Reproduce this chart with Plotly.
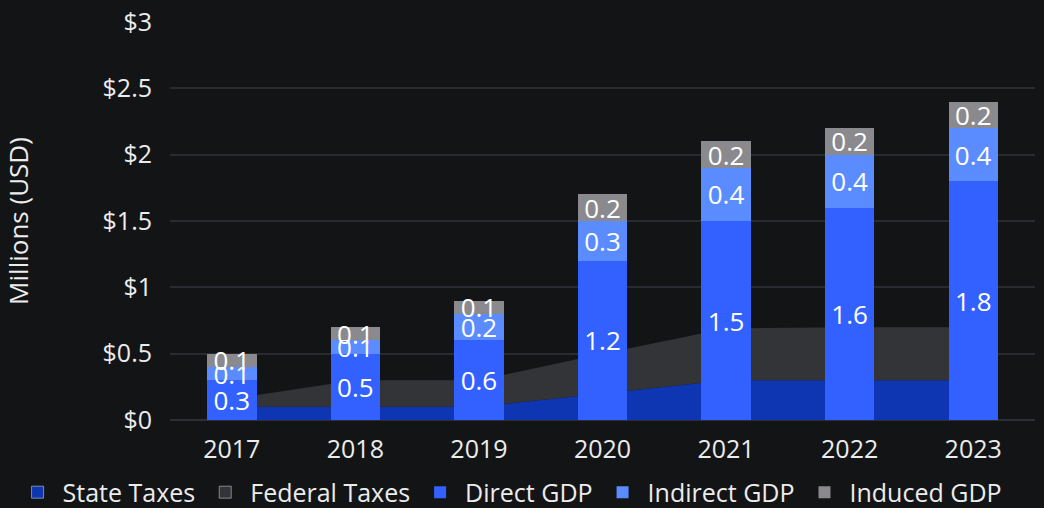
import plotly.graph_objects as go

years = ["2017", "2018", "2019", "2020", "2021", "2022", "2023"]
state_taxes = [0.1, 0.1, 0.1, 0.2, 0.3, 0.3, 0.3]
federal_taxes = [0.06, 0.2, 0.2, 0.3, 0.39, 0.4, 0.4]
direct_gdp = [0.3, 0.5, 0.6, 1.2, 1.5, 1.6, 1.8]
indirect_gdp = [0.1, 0.1, 0.2, 0.3, 0.4, 0.4, 0.4]
induced_gdp = [0.1, 0.1, 0.1, 0.2, 0.2, 0.2, 0.2]
y_ticks = [0, 0.5, 1, 1.5, 2, 2.5, 3]
y_tick_labels = ["$0", "$0.5", "$1", "$1.5", "$2", "$2.5", "$3"]

BG = "#131416"
TXT = "#ececec"
FONT = "Open Sans"
C_STATE = "#0e36b3"
C_FED = "#333438"

fig = go.Figure()

# stacked tax areas (base axes, drawn underneath the bars)
fig.add_trace(go.Scatter(
    x=years, y=state_taxes, name="State Taxes", mode="none",
    fillcolor=C_STATE, stackgroup="taxes", showlegend=False, hoverinfo="skip"))
fig.add_trace(go.Scatter(
    x=years, y=federal_taxes, name="Federal Taxes", mode="none",
    fillcolor=C_FED, stackgroup="taxes", showlegend=False, hoverinfo="skip"))

# legend entries for the areas (square swatches)
for name, col in [("State Taxes", C_STATE), ("Federal Taxes", C_FED)]:
    fig.add_trace(go.Bar(x=[years[0]], y=[None], name=name, marker_color=col,
                         xaxis="x2", yaxis="y2", hoverinfo="skip"))

for name, vals, col in [("Direct GDP", direct_gdp, "#3361ff"),
                        ("Indirect GDP", indirect_gdp, "#5b8cff"),
                        ("Induced GDP", induced_gdp, "#8a8a8e")]:
    fig.add_trace(go.Bar(
        x=years, y=vals, name=name, marker=dict(color=col, line=dict(width=0)),
        text=[f"{v:g}" for v in vals], textposition="inside",
        insidetextanchor="middle", textangle=0,
        textfont=dict(color="#ffffff", size=26, family=FONT),
        cliponaxis=False, xaxis="x2", yaxis="y2"))

fig.update_layout(
    barmode="stack", bargap=0.6,
    width=1044, height=508,
    paper_bgcolor=BG, plot_bgcolor=BG,
    margin=dict(l=170, r=9, t=22, b=88, autoexpand=False),
    font=dict(family=FONT, color=TXT, size=25),
    uniformtext=dict(minsize=26, mode="show"),
    showlegend=True,
    legend=dict(orientation="h", xref="paper", yref="paper",
                x=-0.182, xanchor="left", y=-0.182, yanchor="middle",
                font=dict(size=25, color=TXT), traceorder="normal",
                itemwidth=40, bgcolor="rgba(0,0,0,0)"),
    xaxis=dict(categoryorder="array", categoryarray=years, range=[-0.5, 6.5],
               showgrid=False, tickfont=dict(size=25, color=TXT),
               showline=False, zeroline=False, ticks="", ticklabelstandoff=12),
    yaxis=dict(range=[0, 3], tickvals=y_ticks, ticktext=y_tick_labels,
               tickfont=dict(size=25, color=TXT), gridcolor="#2a2b30",
               gridwidth=2, zeroline=True, zerolinecolor="#2e2f34", zerolinewidth=2,
               ticks="", ticklabelstandoff=17,
               title=dict(text="Millions (USD)", font=dict(size=26, color=TXT), standoff=68)),
    xaxis2=dict(overlaying="x", categoryorder="array", categoryarray=years,
                range=[-0.5, 6.5], visible=False),
    yaxis2=dict(overlaying="y", range=[0, 3], visible=False),
)

fig.write_html(
    "out.html",
    config={"displayModeBar": False},
    post_script="document.body.style.margin='0';document.body.style.padding='0';"
                "document.body.style.background='#131416';",
)
